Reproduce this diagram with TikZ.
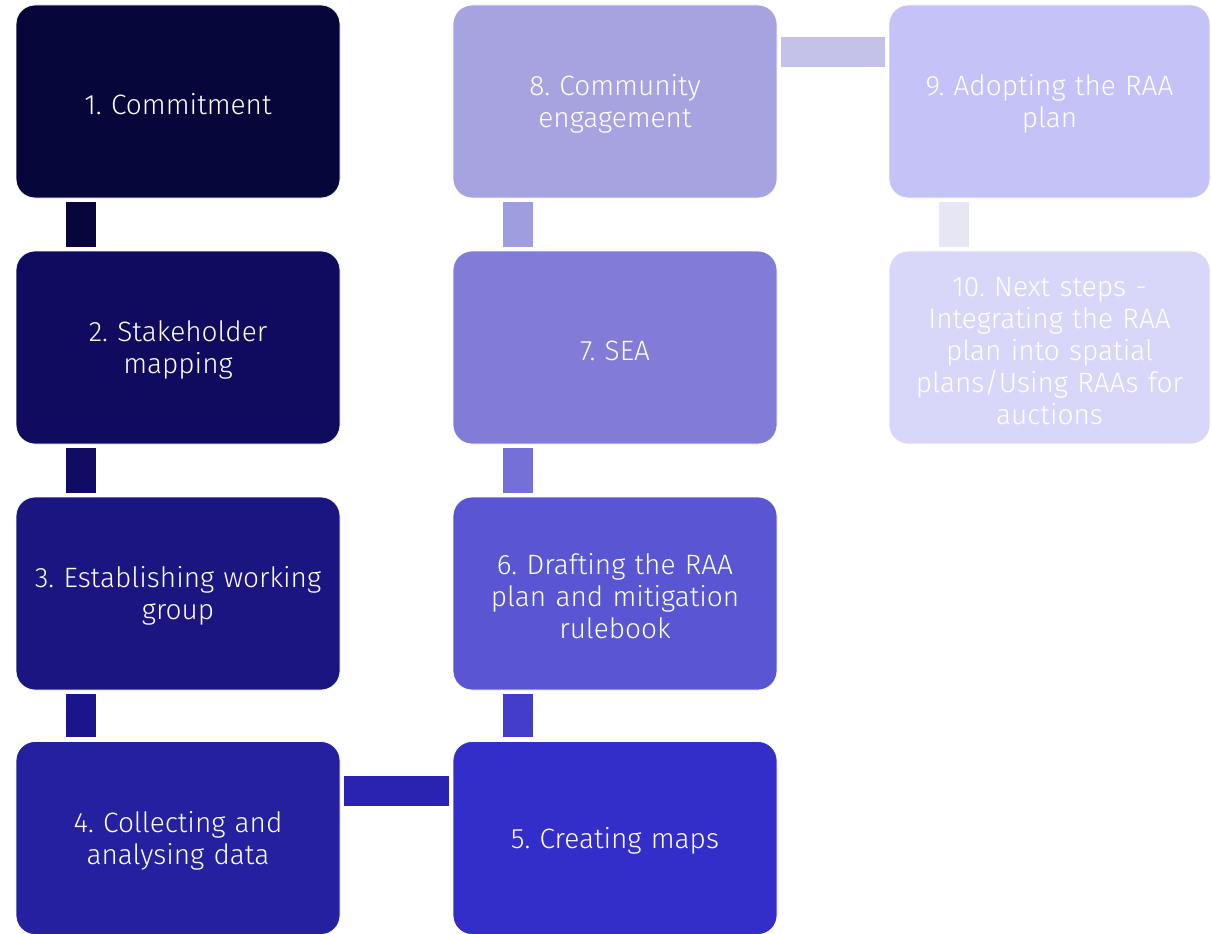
\documentclass[tikz,border=0pt]{standalone}
\usepackage{fontspec}
\setmainfont{Fira Sans}[UprightFont=* Light]
\frenchspacing
\newcommand{\tallstrut}{\rule{0pt}{26pt}}
\definecolor{b1}{HTML}{07063B}
\definecolor{b2}{HTML}{0F0C5F}
\definecolor{b3}{HTML}{1A1580}
\definecolor{b4}{HTML}{2420A0}
\definecolor{b5}{HTML}{332ECA}
\definecolor{b6}{HTML}{5A55D2}
\definecolor{b7}{HTML}{817CD8}
\definecolor{b8}{HTML}{A7A3E0}
\definecolor{b9}{HTML}{C4C2F6}
\definecolor{b10}{HTML}{D9D7F9}
\definecolor{c12}{HTML}{07063B}
\definecolor{c23}{HTML}{0F0C62}
\definecolor{c34}{HTML}{1C148A}
\definecolor{c45}{HTML}{2A22B0}
\definecolor{c56}{HTML}{433CCB}
\definecolor{c67}{HTML}{7570D8}
\definecolor{c78}{HTML}{A09CE0}
\definecolor{c89}{HTML}{C4C2E8}
\definecolor{c910}{HTML}{E6E6F4}
\tikzset{
  stepbox/.style={rectangle, rounded corners=19pt, draw=white, line width=0.8pt,
    minimum width=324pt, minimum height=193pt, text width=320pt, align=center,
    text=white, font=\fontsize{28}{32}\selectfont, inner sep=0pt},
  bar/.style={line width=30pt, shorten >=4pt, shorten <=4pt}
}
\begin{document}
\begin{tikzpicture}[x=1pt,y=-1pt]
\useasboundingbox (0,0) rectangle (1211,934);
\node[stepbox, fill=b1] (n1) at (178,101.5) {\tallstrut 1. Commitment};
\node[stepbox, fill=b2] (n2) at (178,347.5) {\tallstrut 2. Stakeholder\\mapping};
\node[stepbox, fill=b3] (n3) at (178,593.5) {\tallstrut 3. Establishing working\\group};
\node[stepbox, fill=b4] (n4) at (178,838) {\tallstrut 4. Collecting and\\analysing data};
\node[stepbox, fill=b5] (n5) at (615,838) {\tallstrut 5. Creating maps};
\node[stepbox, fill=b6] (n6) at (615,593.5) {\tallstrut 6. Drafting the RAA\\plan and mitigation\\rulebook};
\node[stepbox, fill=b7] (n7) at (615,347.5) {\tallstrut 7. SEA};
\node[stepbox, fill=b8] (n8) at (615,101.5) {\tallstrut 8. Community\\engagement};
\node[stepbox, fill=b9, minimum width=321pt] (n9) at (1049.5,101.5) {\tallstrut 9. Adopting the RAA\\plan};
\node[stepbox, fill=b10, minimum width=321pt] (n10) at (1049.5,347.5) {\tallstrut 10. Next steps -\\Integrating the RAA\\plan into spatial\\plans/Using RAAs for\\auctions};
\draw[bar, c12] ([xshift=-97pt]n1.south) -- ([xshift=-97pt]n2.north);
\draw[bar, c23] ([xshift=-97pt]n2.south) -- ([xshift=-97pt]n3.north);
\draw[bar, c34] ([xshift=-97pt]n3.south) -- ([xshift=-97pt]n4.north);
\draw[bar, c45] ([yshift=47pt]n4.east) -- ([yshift=47pt]n5.west);
\draw[bar, c56] ([xshift=-97pt]n5.north) -- ([xshift=-97pt]n6.south);
\draw[bar, c67] ([xshift=-97pt]n6.north) -- ([xshift=-97pt]n7.south);
\draw[bar, c78] ([xshift=-97pt]n7.north) -- ([xshift=-97pt]n8.south);
\draw[bar, c89] ([yshift=49.5pt]n8.east) -- ([yshift=49.5pt]n9.west);
\draw[bar, c910] ([xshift=-95.5pt]n9.south) -- ([xshift=-95.5pt]n10.north);
\end{tikzpicture}
\end{document}
